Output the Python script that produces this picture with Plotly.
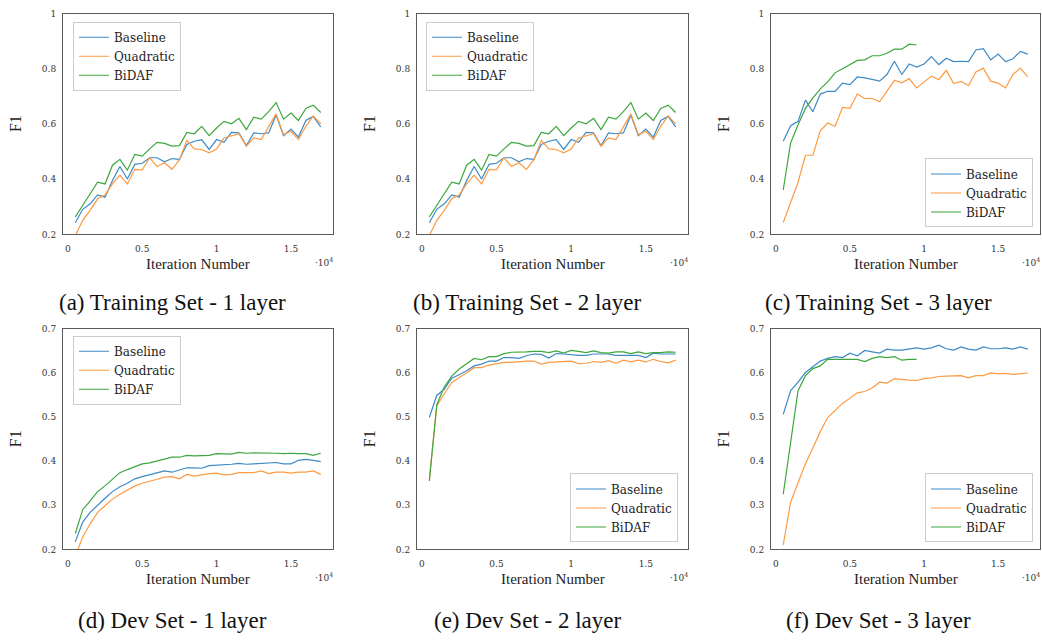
import plotly.graph_objects as go

# ---------------- data ----------------
iters = [500 * i for i in range(1, 35)]  # 500 ... 17000
iters_short = [500 * i for i in range(1, 20)]  # 500 ... 9500

train1_baseline = [0.242, 0.291, 0.311, 0.343, 0.335, 0.395, 0.446, 0.401, 0.454, 0.458,
                   0.478, 0.478, 0.463, 0.475, 0.472, 0.526, 0.538, 0.544, 0.508, 0.544,
                   0.534, 0.570, 0.568, 0.522, 0.568, 0.565, 0.568, 0.633, 0.558, 0.582,
                   0.553, 0.613, 0.628, 0.590]
train1_quadratic = [0.195, 0.251, 0.287, 0.329, 0.343, 0.383, 0.415, 0.383, 0.436, 0.434,
                    0.478, 0.446, 0.460, 0.436, 0.470, 0.541, 0.510, 0.508, 0.496, 0.510,
                    0.550, 0.558, 0.565, 0.520, 0.550, 0.544, 0.592, 0.637, 0.562, 0.574,
                    0.544, 0.592, 0.630, 0.601]
train1_bidaf = [0.263, 0.305, 0.347, 0.389, 0.383, 0.451, 0.472, 0.433, 0.490, 0.484,
                0.510, 0.534, 0.530, 0.520, 0.522, 0.570, 0.565, 0.592, 0.558, 0.586,
                0.610, 0.601, 0.621, 0.580, 0.625, 0.618, 0.645, 0.678, 0.618, 0.640,
                0.613, 0.657, 0.669, 0.642]

train2_baseline = [0.242, 0.291, 0.311, 0.343, 0.335, 0.395, 0.446, 0.401, 0.454, 0.458,
                   0.478, 0.478, 0.463, 0.475, 0.472, 0.526, 0.538, 0.544, 0.508, 0.544,
                   0.534, 0.570, 0.568, 0.522, 0.568, 0.565, 0.568, 0.633, 0.558, 0.582,
                   0.553, 0.613, 0.628, 0.590]
train2_quadratic = [0.195, 0.251, 0.287, 0.329, 0.343, 0.383, 0.415, 0.383, 0.436, 0.434,
                    0.478, 0.446, 0.460, 0.436, 0.470, 0.541, 0.510, 0.508, 0.496, 0.510,
                    0.550, 0.558, 0.565, 0.520, 0.550, 0.544, 0.592, 0.637, 0.562, 0.574,
                    0.544, 0.592, 0.630, 0.601]
train2_bidaf = [0.263, 0.305, 0.347, 0.389, 0.383, 0.451, 0.472, 0.433, 0.490, 0.484,
                0.510, 0.534, 0.530, 0.520, 0.522, 0.570, 0.565, 0.592, 0.558, 0.586,
                0.610, 0.601, 0.621, 0.580, 0.625, 0.618, 0.645, 0.678, 0.618, 0.640,
                0.613, 0.657, 0.669, 0.642]

train3_baseline = [0.538, 0.594, 0.610, 0.687, 0.645, 0.709, 0.719, 0.719, 0.749, 0.743,
                   0.771, 0.768, 0.762, 0.756, 0.780, 0.828, 0.780, 0.818, 0.807, 0.818,
                   0.845, 0.816, 0.839, 0.827, 0.828, 0.827, 0.869, 0.874, 0.833, 0.854,
                   0.827, 0.837, 0.864, 0.854]
train3_quadratic = [0.243, 0.317, 0.389, 0.487, 0.487, 0.576, 0.604, 0.592, 0.661, 0.657,
                    0.709, 0.693, 0.693, 0.681, 0.721, 0.759, 0.750, 0.765, 0.731, 0.753,
                    0.774, 0.761, 0.795, 0.747, 0.755, 0.740, 0.789, 0.803, 0.756, 0.749,
                    0.731, 0.780, 0.803, 0.771]
train3_bidaf = [0.361, 0.532, 0.598, 0.657, 0.695, 0.728, 0.753, 0.786, 0.801, 0.816,
                0.831, 0.833, 0.848, 0.848, 0.857, 0.872, 0.872, 0.890, 0.887]

dev1_baseline = [0.217, 0.262, 0.284, 0.301, 0.316, 0.331, 0.342, 0.350, 0.360, 0.365,
                 0.369, 0.373, 0.378, 0.375, 0.380, 0.385, 0.385, 0.384, 0.390, 0.391,
                 0.391, 0.393, 0.395, 0.393, 0.394, 0.395, 0.397, 0.397, 0.394, 0.394,
                 0.402, 0.404, 0.402, 0.399]
dev1_quadratic = [0.185, 0.228, 0.258, 0.284, 0.299, 0.314, 0.325, 0.335, 0.344, 0.350,
                  0.354, 0.359, 0.364, 0.365, 0.360, 0.370, 0.366, 0.369, 0.372, 0.373,
                  0.369, 0.370, 0.374, 0.374, 0.374, 0.378, 0.372, 0.375, 0.375, 0.373,
                  0.375, 0.375, 0.378, 0.370]
dev1_bidaf = [0.236, 0.290, 0.310, 0.331, 0.344, 0.359, 0.374, 0.381, 0.387, 0.394,
              0.396, 0.400, 0.404, 0.409, 0.409, 0.413, 0.412, 0.413, 0.413, 0.417,
              0.416, 0.416, 0.420, 0.418, 0.419, 0.419, 0.419, 0.418, 0.417, 0.418,
              0.417, 0.417, 0.413, 0.418]

dev2_baseline = [0.499, 0.549, 0.563, 0.588, 0.596, 0.605, 0.616, 0.620, 0.627, 0.627,
                 0.635, 0.635, 0.633, 0.639, 0.643, 0.642, 0.634, 0.644, 0.643, 0.641,
                 0.640, 0.640, 0.643, 0.643, 0.643, 0.640, 0.640, 0.640, 0.640, 0.635,
                 0.645, 0.643, 0.643, 0.643]
dev2_quadratic = [0.357, 0.525, 0.553, 0.578, 0.590, 0.600, 0.612, 0.612, 0.618, 0.621,
                  0.624, 0.624, 0.626, 0.627, 0.627, 0.620, 0.624, 0.625, 0.627, 0.627,
                  0.621, 0.622, 0.626, 0.624, 0.628, 0.622, 0.629, 0.625, 0.629, 0.625,
                  0.631, 0.626, 0.623, 0.629]
dev2_bidaf = [0.355, 0.528, 0.568, 0.593, 0.609, 0.620, 0.633, 0.630, 0.637, 0.637,
              0.644, 0.647, 0.647, 0.648, 0.649, 0.649, 0.646, 0.650, 0.645, 0.651,
              0.649, 0.646, 0.650, 0.646, 0.645, 0.648, 0.648, 0.644, 0.648, 0.644,
              0.646, 0.646, 0.648, 0.647]

dev3_baseline = [0.506, 0.560, 0.579, 0.601, 0.614, 0.627, 0.633, 0.637, 0.635, 0.645,
                 0.639, 0.651, 0.648, 0.645, 0.654, 0.652, 0.652, 0.654, 0.657, 0.654,
                 0.657, 0.663, 0.655, 0.652, 0.659, 0.654, 0.652, 0.659, 0.655, 0.655,
                 0.657, 0.654, 0.659, 0.654]
dev3_quadratic = [0.210, 0.307, 0.351, 0.394, 0.430, 0.467, 0.499, 0.516, 0.531, 0.543,
                  0.555, 0.558, 0.566, 0.579, 0.577, 0.587, 0.585, 0.584, 0.583, 0.587,
                  0.589, 0.592, 0.593, 0.593, 0.594, 0.589, 0.594, 0.594, 0.600, 0.598,
                  0.599, 0.597, 0.598, 0.600]
dev3_bidaf = [0.325, 0.445, 0.560, 0.594, 0.610, 0.616, 0.631, 0.631, 0.631, 0.631,
              0.631, 0.626, 0.633, 0.637, 0.635, 0.637, 0.629, 0.631, 0.631]

series_names = ["Baseline", "Quadratic", "BiDAF"]
captions = ["(a) Training Set - 1 layer", "(b) Training Set - 2 layer", "(c) Training Set - 3 layer",
            "(d) Dev Set - 1 layer", "(e) Dev Set - 2 layer", "(f) Dev Set - 3 layer"]
x_tickvals = [0, 5000, 10000, 15000]
x_ticktext = ["0", "0.5", "1", "1.5"]
train_yticks = [0.2, 0.4, 0.6, 0.8, 1.0]
train_yticktext = ["0.2", "0.4", "0.6", "0.8", "1"]
dev_yticks = [0.2, 0.3, 0.4, 0.5, 0.6, 0.7]
dev_yticktext = ["0.2", "0.3", "0.4", "0.5", "0.6", "0.7"]

# ---------------- layout constants ----------------
W, H = 1042, 642
COLORS = ["#3d8ac5", "#fd9a42", "#3da63d"]
SERIF = "Liberation Serif, DejaVu Serif, serif"
WIDE_SERIF = "DejaVu Serif, serif"

panels = [
    dict(data=[(iters, train1_baseline), (iters, train1_quadratic), (iters, train1_bidaf)],
         px=(63, 333), py=(9, 233), yr=(0.2, 1.0), yt=train_yticks, ytt=train_yticktext,
         leg=(73, 17, "left", "top")),
    dict(data=[(iters, train2_baseline), (iters, train2_quadratic), (iters, train2_bidaf)],
         px=(417, 688), py=(9, 233), yr=(0.2, 1.0), yt=train_yticks, ytt=train_yticktext,
         leg=(426, 17, "left", "top")),
    dict(data=[(iters, train3_baseline), (iters, train3_quadratic), (iters_short, train3_bidaf)],
         px=(771, 1040), py=(9, 233), yr=(0.2, 1.0), yt=train_yticks, ytt=train_yticktext,
         leg=(1033, 226, "right", "bottom")),
    dict(data=[(iters, dev1_baseline), (iters, dev1_quadratic), (iters, dev1_bidaf)],
         px=(63, 333), py=(329, 553), yr=(0.2, 0.7), yt=dev_yticks, ytt=dev_yticktext,
         leg=(73, 336, "left", "top")),
    dict(data=[(iters, dev2_baseline), (iters, dev2_quadratic), (iters, dev2_bidaf)],
         px=(417, 688), py=(329, 553), yr=(0.2, 0.7), yt=dev_yticks, ytt=dev_yticktext,
         leg=(678, 546, "right", "bottom")),
    dict(data=[(iters, dev3_baseline), (iters, dev3_quadratic), (iters_short, dev3_bidaf)],
         px=(771, 1040), py=(329, 553), yr=(0.2, 0.7), yt=dev_yticks, ytt=dev_yticktext,
         leg=(1033, 546, "right", "bottom")),
]
caption_pos = [(172, 302), (527, 302), (878, 302), (172, 625), (527, 625), (878, 625)]

fig = go.Figure()
layout = dict(
    width=W, height=H, margin=dict(l=0, r=0, t=0, b=0),
    paper_bgcolor="white", plot_bgcolor="white", showlegend=True,
)
annotations = []

for i, p in enumerate(panels):
    k = "" if i == 0 else str(i + 1)
    legname = "legend" + k
    for j, (xs, ys) in enumerate(p["data"]):
        fig.add_trace(go.Scatter(
            x=xs, y=ys, mode="lines", name=series_names[j],
            line=dict(color=COLORS[j], width=1.2),
            xaxis="x" + k, yaxis="y" + k, legend=legname,
        ))
    x0, x1 = p["px"]
    y0, y1 = p["py"]
    layout["xaxis" + k] = dict(
        domain=[x0 / W, x1 / W], anchor="y" + k, range=[-325, 17825],
        tickvals=x_tickvals, ticktext=x_ticktext, showgrid=False, zeroline=False,
        showline=True, mirror=True, linecolor="#5a5a5a", linewidth=1,
        ticks="", ticklabelstandoff=6, tickfont=dict(family=WIDE_SERIF, size=9, color="#333"),
    )
    layout["yaxis" + k] = dict(
        domain=[1 - y1 / H, 1 - y0 / H], anchor="x" + k, range=list(p["yr"]),
        tickvals=p["yt"], ticktext=p["ytt"], showgrid=False, zeroline=False,
        showline=True, mirror=True, linecolor="#5a5a5a", linewidth=1,
        ticks="", ticklabelstandoff=4, tickfont=dict(family=WIDE_SERIF, size=9, color="#333"),
    )
    lx, ly, xa, ya = p["leg"]
    layout[legname] = dict(
        x=lx / W, y=1 - ly / H, xanchor=xa, yanchor=ya,
        bgcolor="white", bordercolor="#cccccc", borderwidth=1,
        font=dict(family=WIDE_SERIF, size=12, color="#222"),
        tracegroupgap=0, itemwidth=30,
    )
    # axis titles
    annotations.append(dict(
        text="Iteration Number", x=(x0 + x1) / 2 / W, y=1 - (y1 + 30) / H,
        xref="paper", yref="paper", showarrow=False, xanchor="center", yanchor="middle",
        font=dict(family=SERIF, size=15, color="#222"),
    ))
    annotations.append(dict(
        text="F1", x=(x0 - 48) / W, y=1 - (y0 + y1) / 2 / H,
        xref="paper", yref="paper", showarrow=False, xanchor="center", yanchor="middle",
        textangle=-90, font=dict(family=SERIF, size=16, color="#222"),
    ))
    annotations.append(dict(
        text="·10<sup>4</sup>", x=(x1 + 2) / W, y=1 - (y1 + 28) / H,
        xref="paper", yref="paper", showarrow=False, xanchor="right", yanchor="middle",
        font=dict(family=WIDE_SERIF, size=9, color="#333"),
    ))
    cx, cy = caption_pos[i]
    annotations.append(dict(
        text=captions[i], x=cx / W, y=1 - cy / H,
        xref="paper", yref="paper", showarrow=False, xanchor="center", yanchor="middle",
        font=dict(family=SERIF, size=23, color="#111"),
    ))

layout["annotations"] = annotations
fig.update_layout(**layout)
fig.write_html("out.html", config={"displayModeBar": False},
               post_script="document.body.style.margin='0px';")
